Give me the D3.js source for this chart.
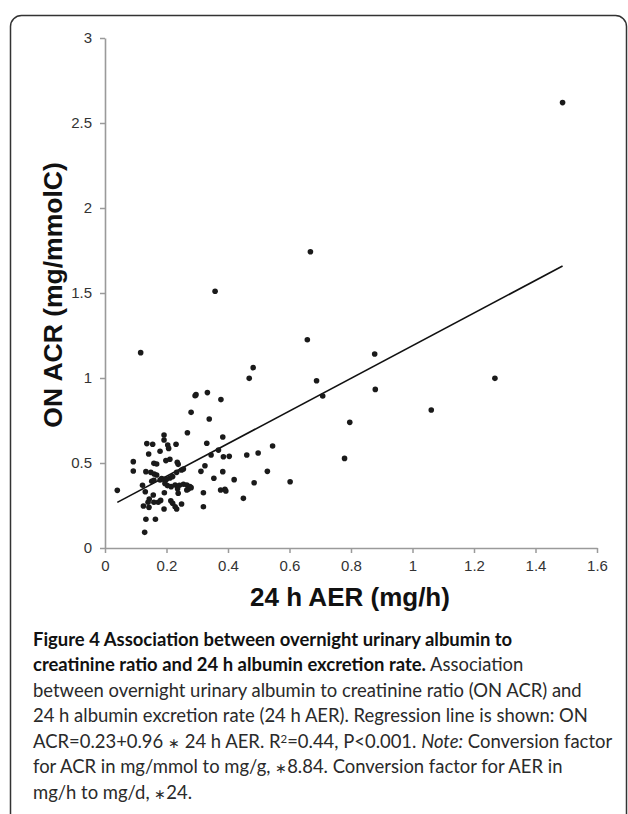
<!DOCTYPE html>
<html>
<head>
<meta charset="utf-8">
<script src="https://cdn.jsdelivr.net/npm/d3@7"></script>
<style>
  body { margin: 0; background: #fff; }
</style>
</head>
<body>
<div id="chart"></div>
<script>
// data
var aer = [0.116, 0.482, 0.469, 0.333, 0.293, 0.296, 0.377, 0.280, 0.339, 0.268,
  0.192, 0.383, 0.192, 0.204, 0.207, 0.136, 0.155, 0.231, 0.331, 0.545,
  0.179, 0.142, 0.369, 0.498, 0.461, 0.385, 0.404, 0.345, 0.092, 0.092,
  0.159, 0.168, 0.198, 0.211, 0.235, 0.238, 0.133, 0.149, 0.160, 0.168,
  0.152, 0.159, 0.179, 0.184, 0.192, 0.200, 0.211, 0.220, 0.233, 0.249,
  0.255, 0.325, 0.312, 0.354, 0.383, 0.420, 0.528, 0.602, 0.040, 0.122,
  0.131, 0.157, 0.195, 0.203, 0.215, 0.228, 0.242, 0.255, 0.266, 0.276,
  0.271, 0.280, 0.236, 0.238, 0.266, 0.193, 0.144, 0.140, 0.173, 0.159,
  0.125, 0.143, 0.181, 0.214, 0.220, 0.228, 0.233, 0.192, 0.249, 0.320,
  0.320, 0.376, 0.390, 0.393, 0.450, 0.485, 0.133, 0.164, 0.129,
  0.658, 0.877, 0.688, 0.708, 0.879, 1.061, 0.796, 0.779,
  0.358, 0.668, 1.488, 1.268];
var acr = [1.149, 1.061, 0.998, 0.914, 0.896, 0.902, 0.873, 0.798, 0.759, 0.678,
  0.665, 0.653, 0.635, 0.606, 0.586, 0.614, 0.610, 0.610, 0.616, 0.600,
  0.569, 0.553, 0.576, 0.559, 0.547, 0.537, 0.539, 0.547, 0.508, 0.453,
  0.498, 0.494, 0.514, 0.522, 0.504, 0.492, 0.449, 0.445, 0.435, 0.429,
  0.392, 0.398, 0.400, 0.408, 0.404, 0.404, 0.412, 0.420, 0.445, 0.459,
  0.465, 0.484, 0.451, 0.410, 0.449, 0.402, 0.451, 0.390, 0.339, 0.369,
  0.331, 0.312, 0.380, 0.367, 0.361, 0.371, 0.369, 0.375, 0.371, 0.361,
  0.347, 0.355, 0.349, 0.322, 0.341, 0.325, 0.288, 0.269, 0.269, 0.269,
  0.247, 0.239, 0.280, 0.278, 0.263, 0.243, 0.229, 0.229, 0.259, 0.325,
  0.243, 0.341, 0.345, 0.335, 0.292, 0.384, 0.169, 0.169, 0.092,
  1.225, 1.141, 0.984, 0.894, 0.933, 0.812, 0.739, 0.527,
  1.510, 1.743, 2.620, 0.998];
var xTicks = [0, 0.2, 0.4, 0.6, 0.8, 1, 1.2, 1.4, 1.6];
var yTicks = [0, 0.5, 1, 1.5, 2, 2.5, 3];
// regression line: ON ACR = 0.23 + 0.96 * 24 h AER
var intercept = 0.23;
var slope = 0.96;

// caption pieces; b = bold, i = italic, sup = superscript, ast = small centred asterisk
var captionLines = [
  [{t: "Figure 4 Association between overnight urinary albumin to", b: true}],
  [{t: "creatinine ratio and 24 h albumin excretion rate.", b: true}, {t: " Association"}],
  [{t: "between overnight urinary albumin to creatinine ratio (ON ACR) and"}],
  [{t: "24 h albumin excretion rate (24 h AER). Regression line is shown: ON"}],
  [{t: "ACR=0.23+0.96 "}, {t: "\u2217", ast: true}, {t: " 24 h AER. R"}, {t: "2", sup: true}, {t: "=0.44, P<0.001. "}, {t: "Note:", i: true}, {t: " Conversion factor"}],
  [{t: "for ACR in mg/mmol to mg/g, "}, {t: "\u2217", ast: true}, {t: "8.84. Conversion factor for AER in"}],
  [{t: "mg/h to mg/d, "}, {t: "\u2217", ast: true}, {t: "24."}]
];

var W = 628, H = 814;
var margin = {top: 38, right: 31, bottom: 266, left: 105},
    width = W - margin.left - margin.right,
    height = H - margin.top - margin.bottom;

var svg = d3.select("#chart")
  .append("svg")
  .attr("width", W)
  .attr("height", H);

// frame around the figure
svg.append("rect")
  .attr("x", 10.5)
  .attr("y", 15.5)
  .attr("width", 616)
  .attr("height", 830)
  .attr("rx", 11)
  .style("fill", "none")
  .style("stroke", "#333")
  .style("stroke-width", 1.5);

var g = svg.append("g")
  .attr("transform", "translate(" + margin.left + "," + margin.top + ")");

var x = d3.scaleLinear().domain([0, 1.6]).range([0, width]);
var y = d3.scaleLinear().domain([0, 3]).range([height, 0]);

var xAxis = g.append("g")
  .attr("transform", "translate(0," + height + ")")
  .call(d3.axisBottom(x).tickValues(xTicks).tickSize(5).tickSizeOuter(0).tickFormat(d3.format("")));
var yAxis = g.append("g")
  .call(d3.axisLeft(y).tickValues(yTicks).tickSize(5).tickSizeOuter(0).tickFormat(d3.format("")));

[xAxis, yAxis].forEach(function(a) {
  a.select(".domain").style("stroke", "#9a9a9a").style("stroke-width", 1.6);
  a.selectAll(".tick line").style("stroke", "#9a9a9a").style("stroke-width", 1.5);
  a.selectAll(".tick text")
    .style("font-family", "Liberation Sans, Arial, sans-serif")
    .style("font-size", "15px")
    .style("fill", "#333");
});
xAxis.selectAll(".tick text").attr("y", 12);
yAxis.selectAll(".tick text").attr("x", -13);

// regression line
var x0 = d3.min(aer), x1 = d3.max(aer);
g.append("line")
  .attr("x1", x(x0))
  .attr("y1", y(intercept + slope * x0))
  .attr("x2", x(x1))
  .attr("y2", y(intercept + slope * x1))
  .style("stroke", "#111")
  .style("stroke-width", 1.6);

// points
g.selectAll("circle")
  .data(aer)
  .enter()
  .append("circle")
  .attr("cx", (d, i) => x(d))
  .attr("cy", (d, i) => y(acr[i]))
  .attr("r", 2.8)
  .style("fill", "#1a1a1a");

// axis titles
g.append("text")
  .attr("text-anchor", "middle")
  .attr("x", width / 2 - 1)
  .attr("y", height + 58)
  .style("font-family", "Liberation Sans, Arial, sans-serif")
  .style("font-weight", "bold")
  .style("font-size", "26px")
  .style("fill", "#111")
  .text("24 h AER (mg/h)");

g.append("text")
  .attr("text-anchor", "middle")
  .attr("transform", "rotate(-90)")
  .attr("x", -(height / 2) - 2)
  .attr("y", -43)
  .style("font-family", "Liberation Sans, Arial, sans-serif")
  .style("font-weight", "bold")
  .style("font-size", "26.5px")
  .style("fill", "#111")
  .text("ON ACR (mg/mmolC)");

// caption
var capLeft = 33, capRight = 613;
var cap = svg.append("g")
  .style("font-family", "Lato, Open Sans, sans-serif")
  .style("font-size", "18px")
  .style("fill", "#2a2a2a");

var capTexts = [];
captionLines.forEach(function(line, li) {
  var t = cap.append("text")
    .attr("x", capLeft)
    .attr("y", li == 0 ? 646 : 671 + (li - 1) * 25.6);
  line.forEach(function(s, k) {
    var sp = t.append("tspan").text(s.t);
    if (s.b) sp.style("font-weight", "bold").style("fill", "#111");
    if (s.i) sp.style("font-style", "italic");
    if (s.ast) sp.style("font-size", "0.75em");
    if (s.sup) sp.style("font-size", "0.62em").attr("dy", "-0.45em");
    if (k > 0 && line[k - 1].sup) sp.attr("dy", "0.3em");
  });
  capTexts.push(t);
});

// fit the caption size so the widest line just reaches the right margin
var wMax = d3.max(capTexts, t => t.node().getComputedTextLength());
cap.style("font-size", (18 * (capRight - capLeft) / wMax).toFixed(2) + "px");
</script>
</body>
</html>
